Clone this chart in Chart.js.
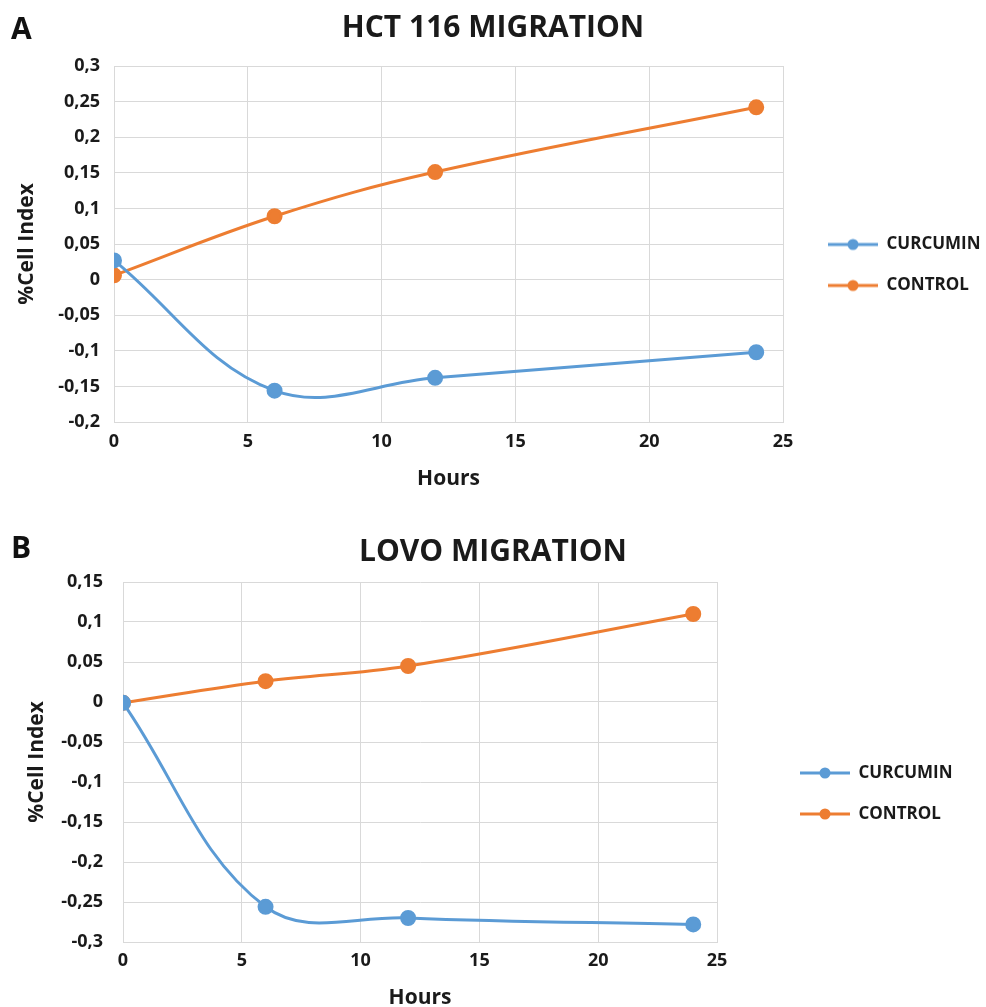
<!DOCTYPE html>
<html>
<head>
<meta charset="utf-8">
<script src="https://cdn.jsdelivr.net/npm/chart.js@4.4.1/dist/chart.umd.min.js"></script>
<style>
  body { margin: 0; background: #fff; width: 986px; height: 1007px; position: relative; overflow: hidden; }
  canvas { position: absolute; left: 0; }
  .tag { position: absolute; left: 11px; font: bold 30px/30px "Open Sans", sans-serif; color: #111; }
</style>
</head>
<body>
<canvas id="chartA" width="986" height="500" style="top:0"></canvas>
<canvas id="chartB" width="986" height="507" style="top:500px"></canvas>
<div class="tag" style="top:13px">A</div>
<div class="tag" style="top:532px">B</div>
<script>
// Datos (horas vs %Cell Index)
const hours = [0, 6, 12, 24];
const seriesNames = ['CURCUMIN', 'CONTROL'];
const hctCurcumin = [0.027, -0.156, -0.138, -0.102];
const hctControl = [0.006, 0.089, 0.151, 0.242];
const lovoCurcumin = [-0.001, -0.256, -0.27, -0.278];
const lovoControl = [-0.001, 0.026, 0.045, 0.11];
const xTicks = [0, 5, 10, 15, 20, 25];

const blue = '#5b9bd5';
const orange = '#ed7d31';
const FONT = '"Open Sans", sans-serif';
const textColor = '#1a1a1a';
const gridColor = '#d9d9d9';

// icono de leyenda estilo Excel: linea con punto
function legendIcon(color) {
    const c = document.createElement('canvas');
    c.width = 50; c.height = 14;
    const ctx = c.getContext('2d');
    ctx.strokeStyle = color;
    ctx.lineWidth = 3;
    ctx.beginPath(); ctx.moveTo(0, 7); ctx.lineTo(50, 7); ctx.stroke();
    ctx.fillStyle = color;
    ctx.beginPath(); ctx.arc(25, 7, 5.5, 0, Math.PI * 2); ctx.fill();
    return c;
}

// ancho fijo de la leyenda y desplazamiento despues del layout
const legendBox = {
    id: 'legendBox',
    beforeLayout(chart, args, opts) {
        const l = chart.legend;
        if (!l || l._fixed) return;
        const fit = l.fit.bind(l);
        l.fit = function() { fit(); this.width = opts.width; };
        l._fixed = true;
    },
    afterLayout(chart, args, opts) {
        const l = chart.legend;
        if (!l) return;
        l.left += opts.dx; l.width -= opts.dx;
        l.top += opts.dy; l.bottom += opts.dy;
    }
};

function points(values) {
    return hours.map((h, i) => ({ x: h, y: values[i] }));
}

function makeChart(id, title, curcumin, control, cfg) {
    const ctx = document.getElementById(id).getContext('2d');
    return new Chart(ctx, {
        type: 'line',
        data: {
            datasets: [
                { label: seriesNames[0], data: points(curcumin), borderColor: blue, backgroundColor: blue,
                  borderWidth: 3, pointRadius: 6.5, pointHoverRadius: 6.5, tension: 0.38 },
                { label: seriesNames[1], data: points(control), borderColor: orange, backgroundColor: orange,
                  borderWidth: 3, pointRadius: 6.5, pointHoverRadius: 6.5, tension: 0.38 }
            ]
        },
        plugins: [legendBox],
        options: {
            responsive: false,
            animation: false,
            layout: { padding: 0 },
            scales: {
                x: {
                    type: 'linear', min: 0, max: 25,
                    afterBuildTicks: s => { s.ticks = xTicks.map(v => ({ value: v })); },
                    afterFit: s => { s.height = cfg.xHeight; },
                    grid: { color: gridColor, drawTicks: false, lineWidth: 1 },
                    border: { color: gridColor },
                    ticks: { color: textColor, padding: cfg.xTickPad, font: { family: FONT, size: 18, weight: 'bold' } },
                    title: { display: true, text: 'Hours', color: textColor, padding: { top: 0, bottom: cfg.xTitlePad },
                             font: { family: FONT, size: 21, weight: 'bold' } }
                },
                y: {
                    min: cfg.yMin, max: cfg.yMax,
                    ticks: { stepSize: 0.05, color: textColor, padding: cfg.yTickPad,
                             font: { family: FONT, size: 18, weight: 'bold' },
                             callback: v => String(Math.round(v * 100) / 100).replace('.', ',') },
                    afterFit: s => { s.width = cfg.yWidth; },
                    grid: { color: gridColor, drawTicks: false, lineWidth: 1 },
                    border: { color: gridColor },
                    title: { display: true, text: '%Cell Index', color: textColor, padding: { top: cfg.yTitlePad, bottom: 0 },
                             font: { family: FONT, size: 21, weight: 'bold' } }
                }
            },
            plugins: {
                title: {
                    display: true, text: title, color: textColor,
                    font: { family: FONT, size: 30, weight: 'bold' },
                    padding: { top: cfg.titleTop, bottom: cfg.titleBottom }
                },
                legend: {
                    position: 'right',
                    labels: {
                        usePointStyle: true, pointStyleWidth: 50, padding: 24, color: textColor,
                        font: { family: FONT, size: 17, weight: 'bold' },
                        generateLabels: chart => chart.data.datasets.map((d, i) => ({
                            text: d.label, pointStyle: legendIcon(d.borderColor),
                            fillStyle: d.borderColor, strokeStyle: d.borderColor, lineWidth: 0,
                            hidden: false, datasetIndex: i, fontColor: textColor
                        }))
                    }
                },
                legendBox: { width: cfg.legendWidth, dx: cfg.legendDx, dy: cfg.legendDy },
                tooltip: { enabled: false }
            }
        }
    });
}

makeChart('chartA', 'HCT 116 MIGRATION', hctCurcumin, hctControl, {
    yMin: -0.2, yMax: 0.3, yWidth: 114, xHeight: 78, legendWidth: 203,
    xTickPad: 9, xTitlePad: 8, yTickPad: 14, yTitlePad: 14,
    titleTop: 10, titleBottom: 20, legendDx: 21, legendDy: 15
});

makeChart('chartB', 'LOVO MIGRATION', lovoCurcumin, lovoControl, {
    yMin: -0.3, yMax: 0.15, yWidth: 123, xHeight: 65, legendWidth: 269,
    xTickPad: 8, xTitlePad: -4, yTickPad: 20, yTitlePad: 24,
    titleTop: 34, titleBottom: 12, legendDx: 59, legendDy: 40
});
</script>
</body>
</html>
